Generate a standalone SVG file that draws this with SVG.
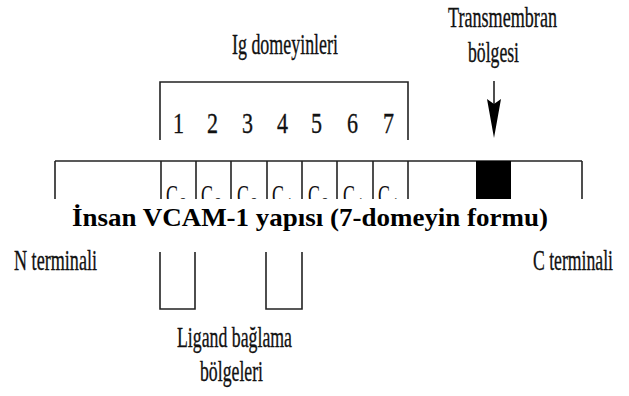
<svg xmlns="http://www.w3.org/2000/svg" width="629" height="396" viewBox="0 0 629 396">
<style>
.lbl{font-family:"Liberation Serif","Times New Roman",serif;font-size:30px;fill:#111;stroke:#111;stroke-width:0.35;}
.num{font-family:"Liberation Serif","Times New Roman",serif;font-size:30px;fill:#111;stroke:#111;stroke-width:0.35;}
.dom{font-family:"Liberation Serif","Times New Roman",serif;font-size:30px;fill:#111;}
.sub{font-size:20px;}
.ln{fill:none;stroke:#222;stroke-width:1.6;}
.title{font-family:"Liberation Serif","Times New Roman",serif;font-size:25px;font-weight:bold;fill:#000;}
</style>
<rect width="629" height="396" fill="#fff"/>
<g id="ig-domains-label">
<text class="lbl" x="232" y="54" textLength="106" lengthAdjust="spacingAndGlyphs">Ig domeyinleri</text>
</g>
<g id="transmembrane-label">
<text class="lbl" x="448" y="27" textLength="109" lengthAdjust="spacingAndGlyphs">Transmembran</text>
<text class="lbl" x="468" y="62" textLength="51" lengthAdjust="spacingAndGlyphs">bölgesi</text>
</g>
<g id="domain-numbers">
<text class="num" x="173" y="133" textLength="11" lengthAdjust="spacingAndGlyphs">1</text>
<text class="num" x="207" y="133" textLength="11" lengthAdjust="spacingAndGlyphs">2</text>
<text class="num" x="242" y="133" textLength="11" lengthAdjust="spacingAndGlyphs">3</text>
<text class="num" x="277" y="133" textLength="11" lengthAdjust="spacingAndGlyphs">4</text>
<text class="num" x="311" y="133" textLength="11" lengthAdjust="spacingAndGlyphs">5</text>
<text class="num" x="347" y="133" textLength="11" lengthAdjust="spacingAndGlyphs">6</text>
<text class="num" x="383" y="133" textLength="11" lengthAdjust="spacingAndGlyphs">7</text>
</g>
<g id="protein">
<line class="ln" x1="55" y1="161" x2="582" y2="161"/>
<line class="ln" x1="55" y1="161" x2="55" y2="240"/>
<line class="ln" x1="582" y1="161" x2="582" y2="240"/>
<line class="ln" x1="161" y1="161" x2="161" y2="240"/>
<line class="ln" x1="196" y1="161" x2="196" y2="240"/>
<line class="ln" x1="231" y1="161" x2="231" y2="240"/>
<line class="ln" x1="267" y1="161" x2="267" y2="240"/>
<line class="ln" x1="302" y1="161" x2="302" y2="240"/>
<line class="ln" x1="337" y1="161" x2="337" y2="240"/>
<line class="ln" x1="373" y1="161" x2="373" y2="240"/>
<line class="ln" x1="408" y1="161" x2="408" y2="240"/>
<rect x="476" y="161" width="35" height="80" fill="#000"/>
<text class="dom" x="166" y="205"><tspan textLength="12" lengthAdjust="spacingAndGlyphs">C</tspan><tspan class="sub" x="180" y="212" textLength="7" lengthAdjust="spacingAndGlyphs">2</tspan></text>
<text class="dom" x="201" y="205"><tspan textLength="12" lengthAdjust="spacingAndGlyphs">C</tspan><tspan class="sub" x="215" y="212" textLength="7" lengthAdjust="spacingAndGlyphs">2</tspan></text>
<text class="dom" x="237" y="205"><tspan textLength="12" lengthAdjust="spacingAndGlyphs">C</tspan><tspan class="sub" x="251" y="212" textLength="7" lengthAdjust="spacingAndGlyphs">2</tspan></text>
<text class="dom" x="272" y="205"><tspan textLength="12" lengthAdjust="spacingAndGlyphs">C</tspan><tspan class="sub" x="286" y="212" textLength="7" lengthAdjust="spacingAndGlyphs">1</tspan></text>
<text class="dom" x="308" y="205"><tspan textLength="12" lengthAdjust="spacingAndGlyphs">C</tspan><tspan class="sub" x="322" y="212" textLength="7" lengthAdjust="spacingAndGlyphs">2</tspan></text>
<text class="dom" x="343" y="205"><tspan textLength="12" lengthAdjust="spacingAndGlyphs">C</tspan><tspan class="sub" x="357" y="212" textLength="7" lengthAdjust="spacingAndGlyphs">1</tspan></text>
<text class="dom" x="378" y="205"><tspan textLength="12" lengthAdjust="spacingAndGlyphs">C</tspan><tspan class="sub" x="392" y="212" textLength="7" lengthAdjust="spacingAndGlyphs">1</tspan></text>
</g>
<g id="connectors">
<path class="ln" d="M160,140 V82 H408 V140"/>
<line class="ln" x1="494" y1="81" x2="494" y2="104"/>
<polygon points="487,99 494,104 501,99 494,138" fill="#000"/>
<path class="ln" d="M160,250 V309 H195 V250"/>
<path class="ln" d="M266,250 V309 H302 V250"/>
</g>
<g id="title">
<rect x="40" y="199" width="572" height="53" fill="#fff"/>
<text class="title" x="72" y="226" textLength="476" lengthAdjust="spacingAndGlyphs">İnsan VCAM-1 yapısı (7-domeyin formu)</text>
</g>
<g id="n-terminal">
<text class="lbl" x="14" y="270" textLength="83" lengthAdjust="spacingAndGlyphs">N terminali</text>
</g>
<g id="c-terminal">
<text class="lbl" x="533" y="270" textLength="80" lengthAdjust="spacingAndGlyphs">C terminali</text>
</g>
<g id="ligand-label">
<text class="lbl" x="177" y="347" textLength="115" lengthAdjust="spacingAndGlyphs">Ligand bağlama</text>
<text class="lbl" x="200" y="381" textLength="63" lengthAdjust="spacingAndGlyphs">bölgeleri</text>
</g>
</svg>
